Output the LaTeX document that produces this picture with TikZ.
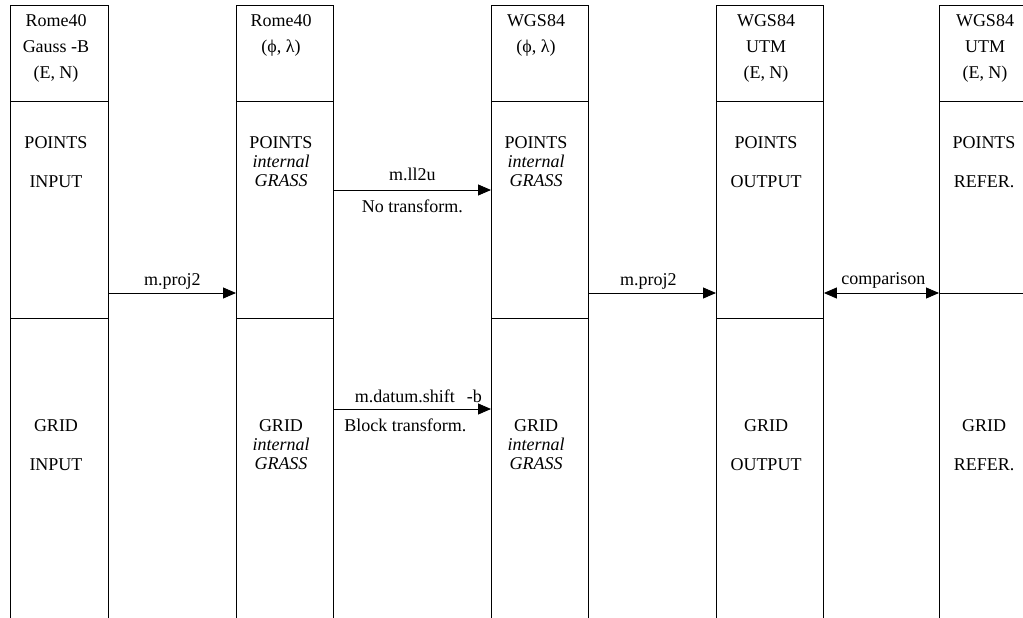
\documentclass[tikz,border=0pt]{standalone}
\usepackage{fontspec}
\setmainfont{Liberation Serif}
\usetikzlibrary{arrows.meta}
\begin{document}
\begin{tikzpicture}[x=1pt,y=-1pt,
 col/.style={draw, line width=0.9pt, anchor=north west, minimum height=660pt, inner sep=0pt},
 hdr/.style={align=center, font=\fontsize{18pt}{26pt}\selectfont, inner sep=0pt},
 body/.style={align=center, font=\fontsize{18pt}{19pt}\selectfont, inner sep=0pt},
 lbl/.style={font=\fontsize{18pt}{19pt}\selectfont, inner sep=0pt},
 arr/.style={line width=0.9pt, -{Triangle[length=13pt,width=11pt]}},
 dblarr/.style={line width=0.9pt, {Triangle[length=13pt,width=11pt]}-{Triangle[length=13pt,width=11pt]}},
 divider/.style={line width=0.9pt}]
\clip (0,0) rectangle (1023,618);
\fill[white] (0,0) rectangle (1023,618);
% columns
\node[col, minimum width=98pt] (c1) at (10,5) {};
\node[col, minimum width=97pt] (c2) at (236,5) {};
\node[col, minimum width=97pt] (c3) at (491,5) {};
\node[col, minimum width=107pt] (c4) at (716,5) {};
\node[col, minimum width=100pt] (c5) at (939,5) {};
% dividers
\foreach \c in {c1,c2,c3,c4,c5} {
  \draw[divider] (\c.west |- 0,101) -- (\c.east |- 0,101);
}
\foreach \c in {c1,c2,c3,c4} {
  \draw[divider] (\c.west |- 0,318) -- (\c.east |- 0,318);
}
\draw[divider] (c5.west |- 0,293) -- (c5.east |- 0,293);
% headers
\node[hdr] (h1) at (56,48) {Rome40\\Gauss -B\\(E, N)};
\node[hdr] (h2) at (281,35) {Rome40\\(ϕ, λ)};
\node[hdr] (h3) at (536,35) {WGS84\\(ϕ, λ)};
\node[hdr] (h4) at (766,48) {WGS84\\UTM\\(E, N)};
\node[hdr] (h5) at (985,48) {WGS84\\UTM\\(E, N)};
% points
\node[body] (p1) at (56,162) {POINTS\\[20pt]INPUT};
\node[body] (p2) at (281,161.5) {POINTS\\\textit{internal}\\\textit{GRASS}};
\node[body] (p3) at (536,161.5) {POINTS\\\textit{internal}\\\textit{GRASS}};
\node[body] (p4) at (766,162) {POINTS\\[20pt]OUTPUT};
\node[body] (p5) at (984,162) {POINTS\\[20pt]REFER.};
% grid
\node[body] (g1) at (56,445.5) {GRID\\[20pt]INPUT};
\node[body] (g2) at (281,445) {GRID\\\textit{internal}\\\textit{GRASS}};
\node[body] (g3) at (536,445) {GRID\\\textit{internal}\\\textit{GRASS}};
\node[body] (g4) at (766,445.5) {GRID\\[20pt]OUTPUT};
\node[body] (g5) at (984,445.5) {GRID\\[20pt]REFER.};
% connectors
\draw[arr] (c1.east |- 0,293) -- node[lbl, above=3pt] {m.proj2} (c2.west |- 0,293);
\draw[arr] (c2.east |- 0,190) -- node[lbl, above=9pt] {m.ll2u} node[lbl, below=9pt] {No transform.} (c3.west |- 0,190);
\draw[arr] (c2.east |- 0,409) -- node[lbl, above=6pt, xshift=6pt] {m.datum.shift\hspace{12pt}-b} node[lbl, below=9.5pt, xshift=-7pt] {Block transform.} (c3.west |- 0,409);
\draw[arr] (c3.east |- 0,293) -- node[lbl, above=3pt, xshift=-4pt] {m.proj2} (c4.west |- 0,293);
\draw[dblarr] (c4.east |- 0,293) -- node[lbl, above=4pt, xshift=2pt] {comparison} (c5.west |- 0,293);
\end{tikzpicture}
\end{document}
